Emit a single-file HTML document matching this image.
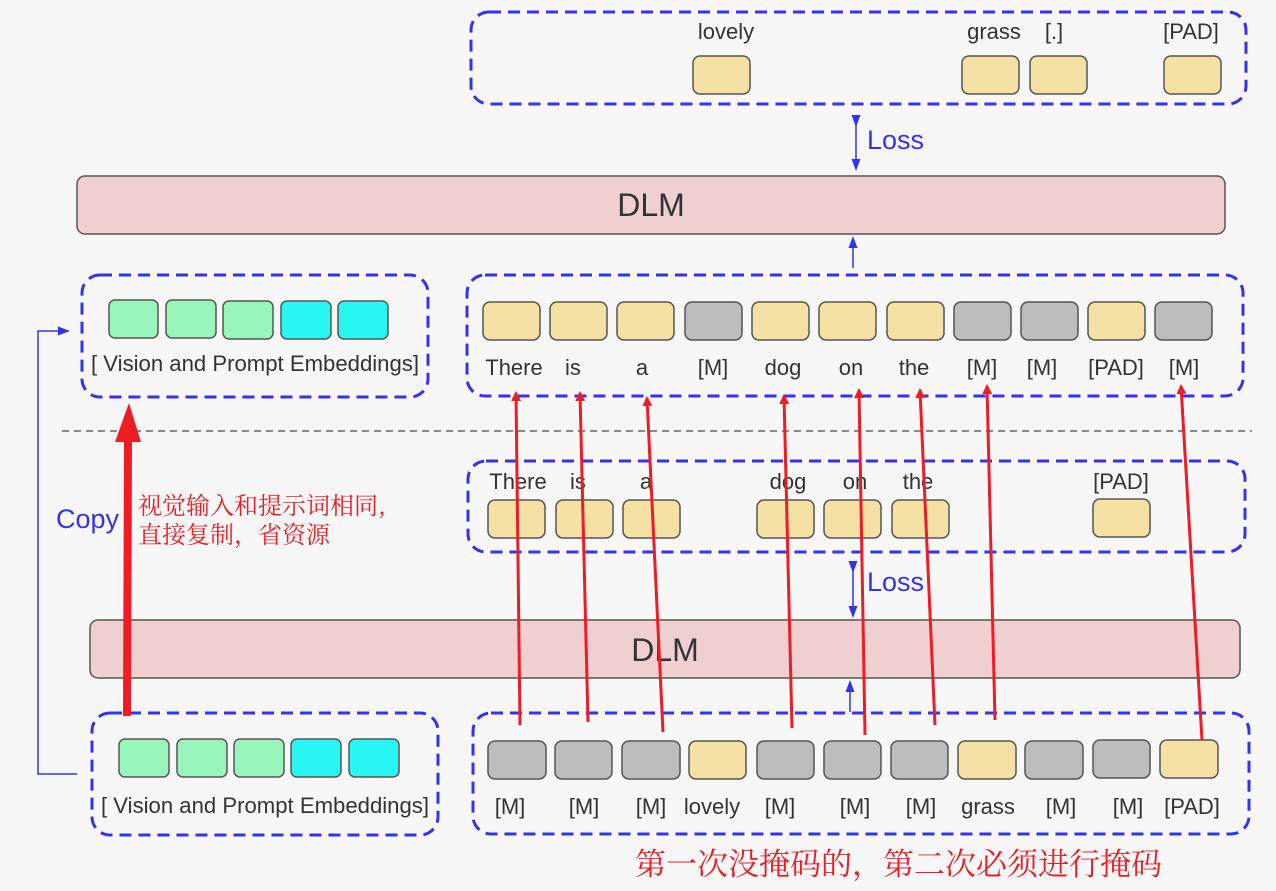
<!DOCTYPE html>
<html><head><meta charset="utf-8"><style>
html,body{margin:0;padding:0;background:#f7f7f7;}
svg{display:block;}
text{font-family:"Liberation Sans","Noto Sans CJK SC",sans-serif;}
.t{font-size:22px;fill:#333;text-anchor:middle;}
.box{fill:none;stroke:#3333ee;stroke-width:3;stroke-dasharray:12 7;}
.y{fill:#f5e1a4;stroke:#555;stroke-width:1.5;}
.g{fill:#bdbdbd;stroke:#555;stroke-width:1.5;}
.m{fill:#98f5bc;stroke:#555;stroke-width:1.5;}
.c{fill:#28f6f2;stroke:#555;stroke-width:1.5;}
.dlm{fill:#efcfd0;stroke:#555;stroke-width:1.5;}
.r{stroke:#ee1c25;stroke-width:3;fill:none;}
.zh{font-family:"Noto Serif CJK SC","WenQuanYi Zen Hei",serif;fill:#ee1c25;}
</style></head><body>
<svg width="1276" height="891" viewBox="0 0 1276 891" xmlns="http://www.w3.org/2000/svg">
<defs>
<marker id="bh" markerWidth="8" markerHeight="8" refX="4" refY="4" orient="auto"><path d="M0,1 L8,4 L0,7 z" fill="#3333ee"/></marker>
<marker id="rh" markerWidth="10" markerHeight="10" refX="8" refY="5" orient="auto" markerUnits="userSpaceOnUse"><path d="M0,0 L10,5 L0,10 z" fill="#ee1c25"/></marker>
</defs>

<rect class="box" x="471" y="12" width="775" height="92" rx="18"/>
<text class="t" x="726" y="39">lovely</text>
<text class="t" x="994" y="39">grass</text>
<text class="t" x="1054" y="39">[.]</text>
<text class="t" x="1191" y="39">[PAD]</text>
<rect class="y" x="693" y="56" width="57" height="38" rx="7"/>
<rect class="y" x="962" y="56" width="57" height="38" rx="7"/>
<rect class="y" x="1030" y="56" width="57" height="38" rx="7"/>
<rect class="y" x="1164" y="56" width="57" height="38" rx="7"/>

<line x1="856" y1="121" x2="856" y2="165" stroke="#3333ee" stroke-width="1.5" marker-start="url(#bh)" marker-end="url(#bh)"/>
<text x="867" y="149" font-size="27" fill="#3333ee">Loss</text>

<rect class="dlm" x="77" y="176" width="1148" height="58" rx="8"/>
<text x="651" y="216" font-size="32" fill="#333" text-anchor="middle">DLM</text>
<line x1="853" y1="268" x2="853" y2="242" stroke="#3333ee" stroke-width="1.5" marker-end="url(#bh)"/>

<rect class="box" x="82" y="275" width="346" height="122" rx="18"/>
<rect class="m" x="109" y="300" width="49" height="38" rx="6"/>
<rect class="m" x="166" y="300" width="50" height="38" rx="6"/>
<rect class="m" x="223" y="301" width="50" height="38" rx="6"/>
<rect class="c" x="281" y="301" width="50" height="38" rx="6"/>
<rect class="c" x="338" y="301" width="50" height="38" rx="6"/>
<text class="t" x="255" y="371" textLength="328" lengthAdjust="spacingAndGlyphs">[ Vision and Prompt Embeddings]</text>

<rect class="box" x="467" y="275" width="776" height="121" rx="18"/>
<rect class="y" x="483" y="302" width="57" height="38" rx="7"/>
<rect class="y" x="550" y="302" width="57" height="38" rx="7"/>
<rect class="y" x="617" y="302" width="57" height="38" rx="7"/>
<rect class="g" x="685" y="302" width="57" height="38" rx="7"/>
<rect class="y" x="752" y="302" width="57" height="38" rx="7"/>
<rect class="y" x="819" y="302" width="57" height="38" rx="7"/>
<rect class="y" x="887" y="302" width="57" height="38" rx="7"/>
<rect class="g" x="954" y="302" width="57" height="38" rx="7"/>
<rect class="g" x="1021" y="302" width="57" height="38" rx="7"/>
<rect class="y" x="1088" y="302" width="57" height="38" rx="7"/>
<rect class="g" x="1155" y="302" width="57" height="38" rx="7"/>
<text class="t" x="514" y="375">There</text><text class="t" x="573" y="375">is</text><text class="t" x="642" y="375">a</text>
<text class="t" x="713" y="375">[M]</text><text class="t" x="783" y="375">dog</text><text class="t" x="851" y="375">on</text>
<text class="t" x="914" y="375">the</text><text class="t" x="982" y="375">[M]</text><text class="t" x="1042" y="375">[M]</text>
<text class="t" x="1116" y="375">[PAD]</text><text class="t" x="1184" y="375">[M]</text>

<line x1="62" y1="431" x2="1252" y2="431" stroke="#666" stroke-width="1.5" stroke-dasharray="7 5"/>

<rect class="box" x="468" y="461" width="777" height="91" rx="18"/>
<text class="t" x="518" y="489">There</text><text class="t" x="578" y="489">is</text><text class="t" x="646" y="489">a</text>
<text class="t" x="788" y="489">dog</text><text class="t" x="855" y="489">on</text><text class="t" x="918" y="489">the</text>
<text class="t" x="1121" y="489">[PAD]</text>
<rect class="y" x="488" y="500" width="57" height="38" rx="7"/>
<rect class="y" x="556" y="500" width="57" height="38" rx="7"/>
<rect class="y" x="623" y="500" width="57" height="38" rx="7"/>
<rect class="y" x="757" y="500" width="57" height="38" rx="7"/>
<rect class="y" x="824" y="500" width="57" height="38" rx="7"/>
<rect class="y" x="892" y="500" width="57" height="38" rx="7"/>
<rect class="y" x="1093" y="499" width="57" height="38" rx="7"/>

<line x1="853" y1="567" x2="853" y2="612" stroke="#3333ee" stroke-width="1.5" marker-start="url(#bh)" marker-end="url(#bh)"/>
<text x="867" y="591" font-size="27" fill="#3333ee">Loss</text>

<rect class="dlm" x="90" y="620" width="1150" height="58" rx="8"/>
<text x="665" y="661" font-size="32" fill="#333" text-anchor="middle">DLM</text>
<line x1="850" y1="712" x2="850" y2="686" stroke="#3333ee" stroke-width="1.5" marker-end="url(#bh)"/>

<rect class="box" x="92" y="713" width="346" height="122" rx="18"/>
<rect class="m" x="119" y="739" width="50" height="38" rx="6"/>
<rect class="m" x="177" y="739" width="50" height="38" rx="6"/>
<rect class="m" x="234" y="739" width="50" height="38" rx="6"/>
<rect class="c" x="291" y="739" width="50" height="38" rx="6"/>
<rect class="c" x="349" y="739" width="50" height="38" rx="6"/>
<text class="t" x="265" y="813" textLength="328" lengthAdjust="spacingAndGlyphs">[ Vision and Prompt Embeddings]</text>

<rect class="box" x="473" y="713" width="776" height="121" rx="18"/>
<rect class="g" x="488" y="741" width="58" height="38" rx="7"/>
<rect class="g" x="555" y="741" width="57" height="38" rx="7"/>
<rect class="g" x="622" y="741" width="58" height="38" rx="7"/>
<rect class="y" x="689" y="741" width="57" height="38" rx="7"/>
<rect class="g" x="757" y="741" width="57" height="38" rx="7"/>
<rect class="g" x="824" y="741" width="57" height="38" rx="7"/>
<rect class="g" x="891" y="741" width="57" height="38" rx="7"/>
<rect class="y" x="958" y="741" width="58" height="38" rx="7"/>
<rect class="g" x="1025" y="741" width="58" height="38" rx="7"/>
<rect class="g" x="1093" y="740" width="57" height="38" rx="7"/>
<rect class="y" x="1160" y="740" width="58" height="38" rx="7"/>
<text class="t" x="510" y="814">[M]</text><text class="t" x="584" y="814">[M]</text><text class="t" x="651" y="814">[M]</text>
<text class="t" x="712" y="814">lovely</text><text class="t" x="780" y="814">[M]</text><text class="t" x="855" y="814">[M]</text>
<text class="t" x="921" y="814">[M]</text><text class="t" x="988" y="814">grass</text><text class="t" x="1061" y="814">[M]</text>
<text class="t" x="1128" y="814">[M]</text><text class="t" x="1192" y="814">[PAD]</text>

<polyline points="77,774 38,774 38,331 64,331" fill="none" stroke="#3333ee" stroke-width="1.5" marker-end="url(#bh)"/>
<text x="56" y="528" font-size="27" fill="#3333ee">Copy</text>

<line x1="127" y1="716" x2="128" y2="440" stroke="#ee1c25" stroke-width="8"/>
<polygon points="115,442 141,442 129,403" fill="#ee1c25"/>
<text class="zh" x="138" y="514" font-size="24">视觉输入和提示词相同,</text>
<text class="zh" x="138" y="543" font-size="24">直接复制，省资源</text>

<g class="r">
<line x1="520" y1="725" x2="516" y2="393" marker-end="url(#rh)"/>
<line x1="588" y1="722" x2="580" y2="393" marker-end="url(#rh)"/>
<line x1="663" y1="732" x2="647" y2="398" marker-end="url(#rh)"/>
<line x1="792" y1="728" x2="784" y2="396" marker-end="url(#rh)"/>
<line x1="865" y1="735" x2="859" y2="390" marker-end="url(#rh)"/>
<line x1="935" y1="725" x2="920" y2="390" marker-end="url(#rh)"/>
<line x1="995" y1="720" x2="987" y2="386" marker-end="url(#rh)"/>
<line x1="1202" y1="740" x2="1181" y2="386" marker-end="url(#rh)"/>
</g>

<text class="zh" x="635" y="875" font-size="31">第一次没掩码的，第二次必须进行掩码</text>
</svg>
</body></html>
